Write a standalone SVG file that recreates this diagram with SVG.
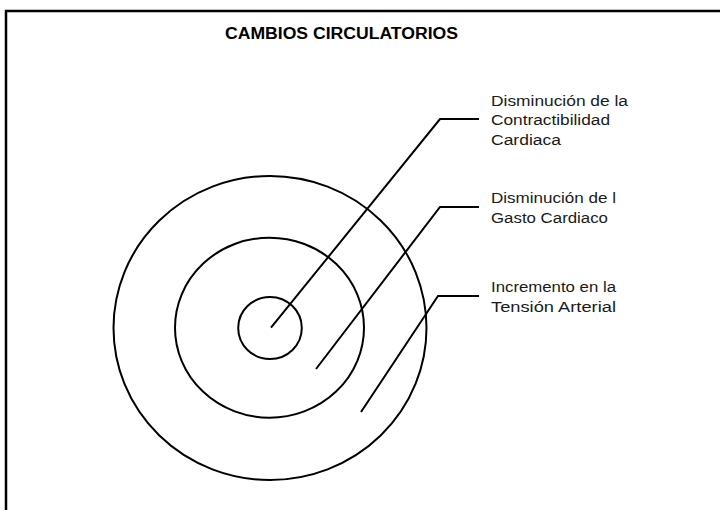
<svg xmlns="http://www.w3.org/2000/svg" width="720" height="510" viewBox="0 0 720 510">
<style>
.ring{fill:none;stroke:#000;stroke-width:2}
.conn{fill:none;stroke:#000;stroke-width:2}
.lbl{font-family:"Liberation Sans",Arial,sans-serif;font-size:15.5px;fill:#1a1a1a}
.title{font-family:"Liberation Sans",Arial,sans-serif;font-size:16px;font-weight:bold;fill:#000}
</style>
<rect width="720" height="510" fill="#fff"/>
<path d="M6 510 V11 H720" fill="none" stroke="#000" stroke-width="2.5"/>
<text class="title" x="225" y="38.5" textLength="233" lengthAdjust="spacingAndGlyphs">CAMBIOS CIRCULATORIOS</text>
<g id="outer"><ellipse class="ring" cx="270" cy="328" rx="156.5" ry="152"/></g>
<g id="middle"><ellipse class="ring" cx="269.5" cy="327.7" rx="94.5" ry="90"/></g>
<g id="inner"><ellipse class="ring" cx="270" cy="328" rx="31.8" ry="31"/></g>
<g id="connectors">
<polyline class="conn" points="271,327.7 440,119 479,119"/>
<polyline class="conn" points="316,369 440,207 479,207"/>
<polyline class="conn" points="361,412 438,296 479,296"/>
</g>
<g id="label1">
<text class="lbl" x="491" y="105.7" textLength="137" lengthAdjust="spacingAndGlyphs">Disminución de la</text>
<text class="lbl" x="491" y="125.3" textLength="119" lengthAdjust="spacingAndGlyphs">Contractibilidad</text>
<text class="lbl" x="491" y="145" textLength="70" lengthAdjust="spacingAndGlyphs">Cardiaca</text>
</g>
<g id="label2">
<text class="lbl" x="491" y="203.3" textLength="125" lengthAdjust="spacingAndGlyphs">Disminución de l</text>
<text class="lbl" x="491" y="222.7" textLength="117" lengthAdjust="spacingAndGlyphs">Gasto Cardiaco</text>
</g>
<g id="label3">
<text class="lbl" x="491" y="292.3" textLength="125" lengthAdjust="spacingAndGlyphs">Incremento en la</text>
<text class="lbl" x="491" y="311.7" textLength="125" lengthAdjust="spacingAndGlyphs">Tensión Arterial</text>
</g>
</svg>
